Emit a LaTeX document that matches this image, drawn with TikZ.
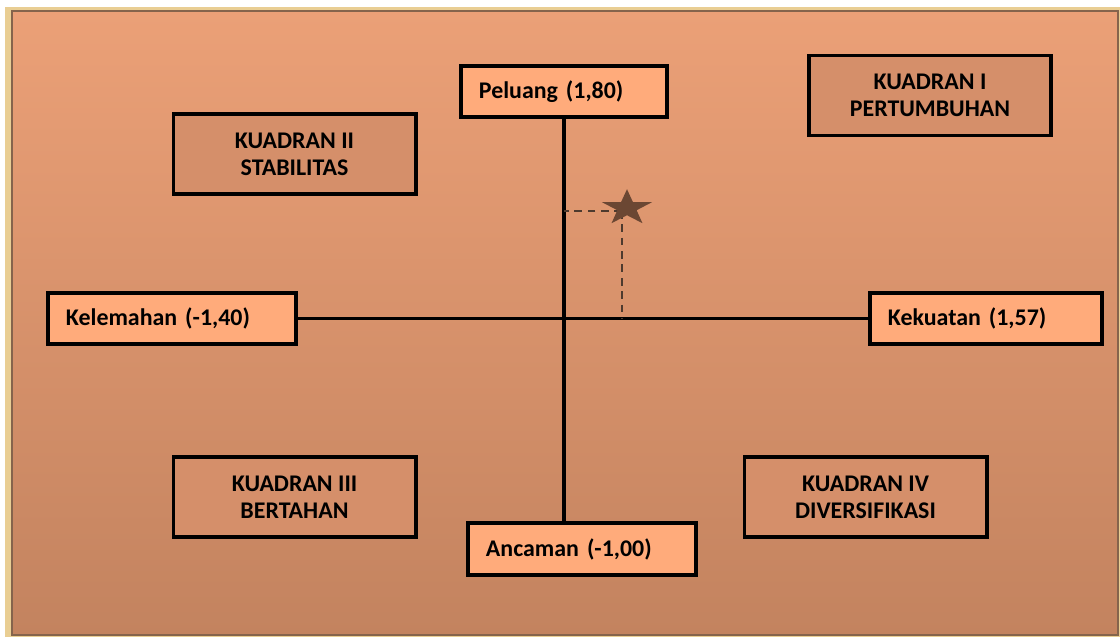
\documentclass[tikz,border=0pt]{standalone}
\usepackage{xcolor}
\usepackage{fontspec}
\setmainfont{Carlito}
\usepackage{tikz}
\usetikzlibrary{shapes,positioning,calc}

\definecolor{bingkai}{HTML}{E9CE93}
\definecolor{garis}{HTML}{85644C}
\definecolor{atas}{HTML}{EBA077}
\definecolor{bawah}{HTML}{C3835F}
\definecolor{terang}{HTML}{FFAB7B}
\definecolor{gelap}{HTML}{D58F6A}
\definecolor{bintang}{HTML}{6B4733}
\definecolor{putus}{HTML}{4D3A2E}

\begin{document}
\begin{tikzpicture}[x=0.025cm, y=-0.025cm,
        faktor/.style={draw=black, line width=2.8pt, fill=terang, text width=4.3cm, align=left,
            inner xsep=0.45cm, minimum height=1.28cm, font=\fontsize{17}{19}\selectfont\bfseries},
        kuadran/.style={draw=black, line width=2.8pt, fill=gelap, minimum width=6.05cm, minimum height=2cm,
            align=center, font=\fontsize{17}{19.3}\selectfont\bfseries}]
        \useasboundingbox (0,0) rectangle (1120,637);

        % Background
        \fill[white] (0,0) rectangle (1120,637);
        \fill[bingkai] (5,7) rectangle (1120,637);
        \shade[top color=atas, bottom color=bawah, draw=garis, line width=1.2pt] (12,11) rectangle (1118,635);

        % Quadrants
        \node[kuadran] (k1) at (930,95.5) {KUADRAN I\\PERTUMBUHAN};
        \node[kuadran] (k2) at (294.5,154) {KUADRAN II\\STABILITAS};
        \node[kuadran] (k3) at (294.5,497) {KUADRAN III\\BERTAHAN};
        \node[kuadran] (k4) at (865.5,497) {KUADRAN IV\\DIVERSIFIKASI};

        % Axes
        \node[faktor, text width=4.25cm] (peluang) at (564,91.5) {Peluang (1,80)};
        \node[faktor, text width=5.3cm] (kelemahan) at (172,318.5) {Kelemahan (-1,40)};
        \node[faktor, text width=4.9cm] (kekuatan) at (986,318.5) {Kekuatan (1,57)};
        \node[faktor, text width=4.8cm, minimum height=1.3cm] (ancaman) at (582,549) {Ancaman (-1,00)};
        \draw[line width=2.3pt] (peluang.south) -- (peluang.south |- ancaman.north);
        \draw[line width=2.3pt] (kelemahan.east) -- (kekuatan.west);

        % Position
        \coordinate (titik) at (622,211);
        \draw[putus, line width=1.4pt, dash pattern=on 5.5pt off 4pt] (titik) -- (titik -| peluang.south);
        \draw[putus, line width=1.4pt, dash pattern=on 5.5pt off 4pt] (titik) -- (titik |- kekuatan.west);
        \node[star, star points=5, star point ratio=2.6, fill=bintang, inner sep=0pt, minimum size=0.94cm,
            xscale=1.4, transform shape] (posisi) at (627,208) {};
    \end{tikzpicture}
\end{document}
